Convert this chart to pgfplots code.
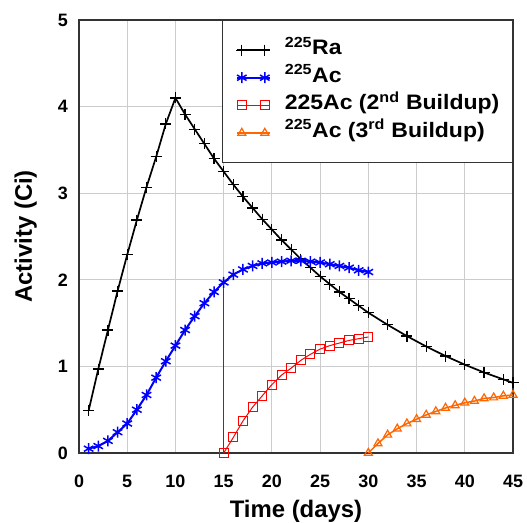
\documentclass[border=0pt]{standalone}
\usepackage{pgfplots}
\pgfplotsset{compat=1.18}
\usepackage{fontspec}
\setmainfont{Liberation Sans}
\newfontfamily\legfont{Liberation Sans}[FakeStretch=1.1]
\definecolor{myorange}{RGB}{255,102,0}
\definecolor{gridgray}{RGB}{204,204,204}
\definecolor{myblue}{RGB}{0,0,255}
\definecolor{lineblue}{RGB}{40,40,255}
\begin{document}
\begin{tikzpicture}
\begin{axis}[
  scale only axis,
  width=434bp, height=433bp,
  xmin=0, xmax=45, ymin=0, ymax=5,
  xtick={0,5,...,45}, ytick={0,1,...,5},
  grid=major,
  major grid style={gridgray, line width=1.2bp},
  axis line style={black!80, line width=1.3bp},
  major tick length=0pt,
  /pgf/number format/assume math mode=true,
  ticklabel style={font=\bfseries\fontsize{18}{18}\selectfont, inner sep=0pt},
  xticklabel style={anchor=base, yshift=-34bp},
  yticklabel style={anchor=east, xshift=-11bp},
  xlabel={Time (days)},
  ylabel={Activity (Ci)},
  label style={font=\bfseries\fontsize{24}{24}\selectfont, inner sep=0pt},
  xlabel style={at={(axis description cs:0.5,-0.1478)}, anchor=base},
  ylabel style={at={(axis description cs:-0.1083,0.5)}, anchor=base},
  legend cell align=left,
  legend style={at={(1,1)}, anchor=north east, draw=black!80, line width=1.3bp,
    font=\legfont\bfseries\fontsize{21}{21}\selectfont,
    inner xsep=13bp, inner ysep=19bp,
    nodes={inner sep=0pt, text height=15bp, text depth=6bp},
    column sep=14bp, row sep=6.6bp},
  legend image code/.code={
    \draw[#1, mark=none] (0bp,0bp) -- (33bp,0bp);
    \path[#1] plot coordinates {(5bp,0bp) (28bp,0bp)};},
]
\addplot[black, line width=1.7bp, mark=+, mark size=5.5bp, mark options={line width=1.2bp}] coordinates {
(1,0.49)(2,0.97)(3,1.42)(4,1.87)(5,2.29)(6,2.69)(7,3.07)(8,3.42)(9,3.80)(10,4.10)
(11,3.91)(12,3.74)(13,3.57)(14,3.40)(15,3.25)(16,3.10)(17,2.96)(18,2.83)(19,2.70)(20,2.58)
(21,2.46)(22,2.35)(23,2.24)(24,2.14)(25,2.04)(26,1.95)(27,1.86)(28,1.78)(29,1.70)(30,1.62)
(32,1.48)(34,1.35)(36,1.23)(38,1.12)(40,1.02)(42,0.93)(44,0.85)(45,0.81)};
\addlegendentry{\textsuperscript{225}Ra}
\addplot[myblue, line width=2bp, mark=asterisk, mark size=5.5bp, mark options={line width=1.5bp}] coordinates {
(1,0.05)(2,0.08)(3,0.14)(4,0.24)(5,0.34)(6,0.50)(7,0.67)(8,0.87)(9,1.06)(10,1.24)
(11,1.42)(12,1.58)(13,1.73)(14,1.86)(15,1.97)(16,2.06)(17,2.12)(18,2.16)(19,2.19)(20,2.20)
(21,2.21)(22,2.22)(23,2.22)(24,2.21)(25,2.20)(26,2.18)(27,2.16)(28,2.14)(29,2.11)(30,2.09)};
\addlegendentry{\textsuperscript{225}Ac}
\addplot[draw=lineblue, line width=1.6bp, mark=none, forget plot] coordinates {(15,0)(15,1.97)};
\addplot[red, line width=1bp, mark=square, mark size=4.5bp, mark options={line width=1bp}] coordinates {
(15,0)(16,0.18)(17,0.37)(18,0.53)(19,0.66)(20,0.79)(21,0.90)(22,0.98)(23,1.07)(24,1.14)
(25,1.20)(26,1.24)(27,1.27)(28,1.30)(29,1.32)(30,1.34)};
\addlegendentry{225Ac (2\textsuperscript{nd} Buildup)}
\addplot[myorange, line width=1.5bp, mark=triangle, mark size=4.6bp, mark options={line width=1.2bp}] coordinates {
(30,0)(31,0.11)(32,0.21)(33,0.28)(34,0.34)(35,0.39)(36,0.44)(37,0.48)(38,0.52)(39,0.55)
(40,0.58)(41,0.60)(42,0.63)(43,0.64)(44,0.66)(45,0.67)};
\addlegendentry{\textsuperscript{225}Ac (3\textsuperscript{rd} Buildup)}
\coordinate (bl) at (rel axis cs:0,0);
\coordinate (tr) at (rel axis cs:1,1);
\end{axis}
\pgfresetboundingbox
\path[use as bounding box] ([shift={(-79bp,-69bp)}]bl) rectangle ([shift={(14bp,20bp)}]tr);
\end{tikzpicture}
\end{document}
